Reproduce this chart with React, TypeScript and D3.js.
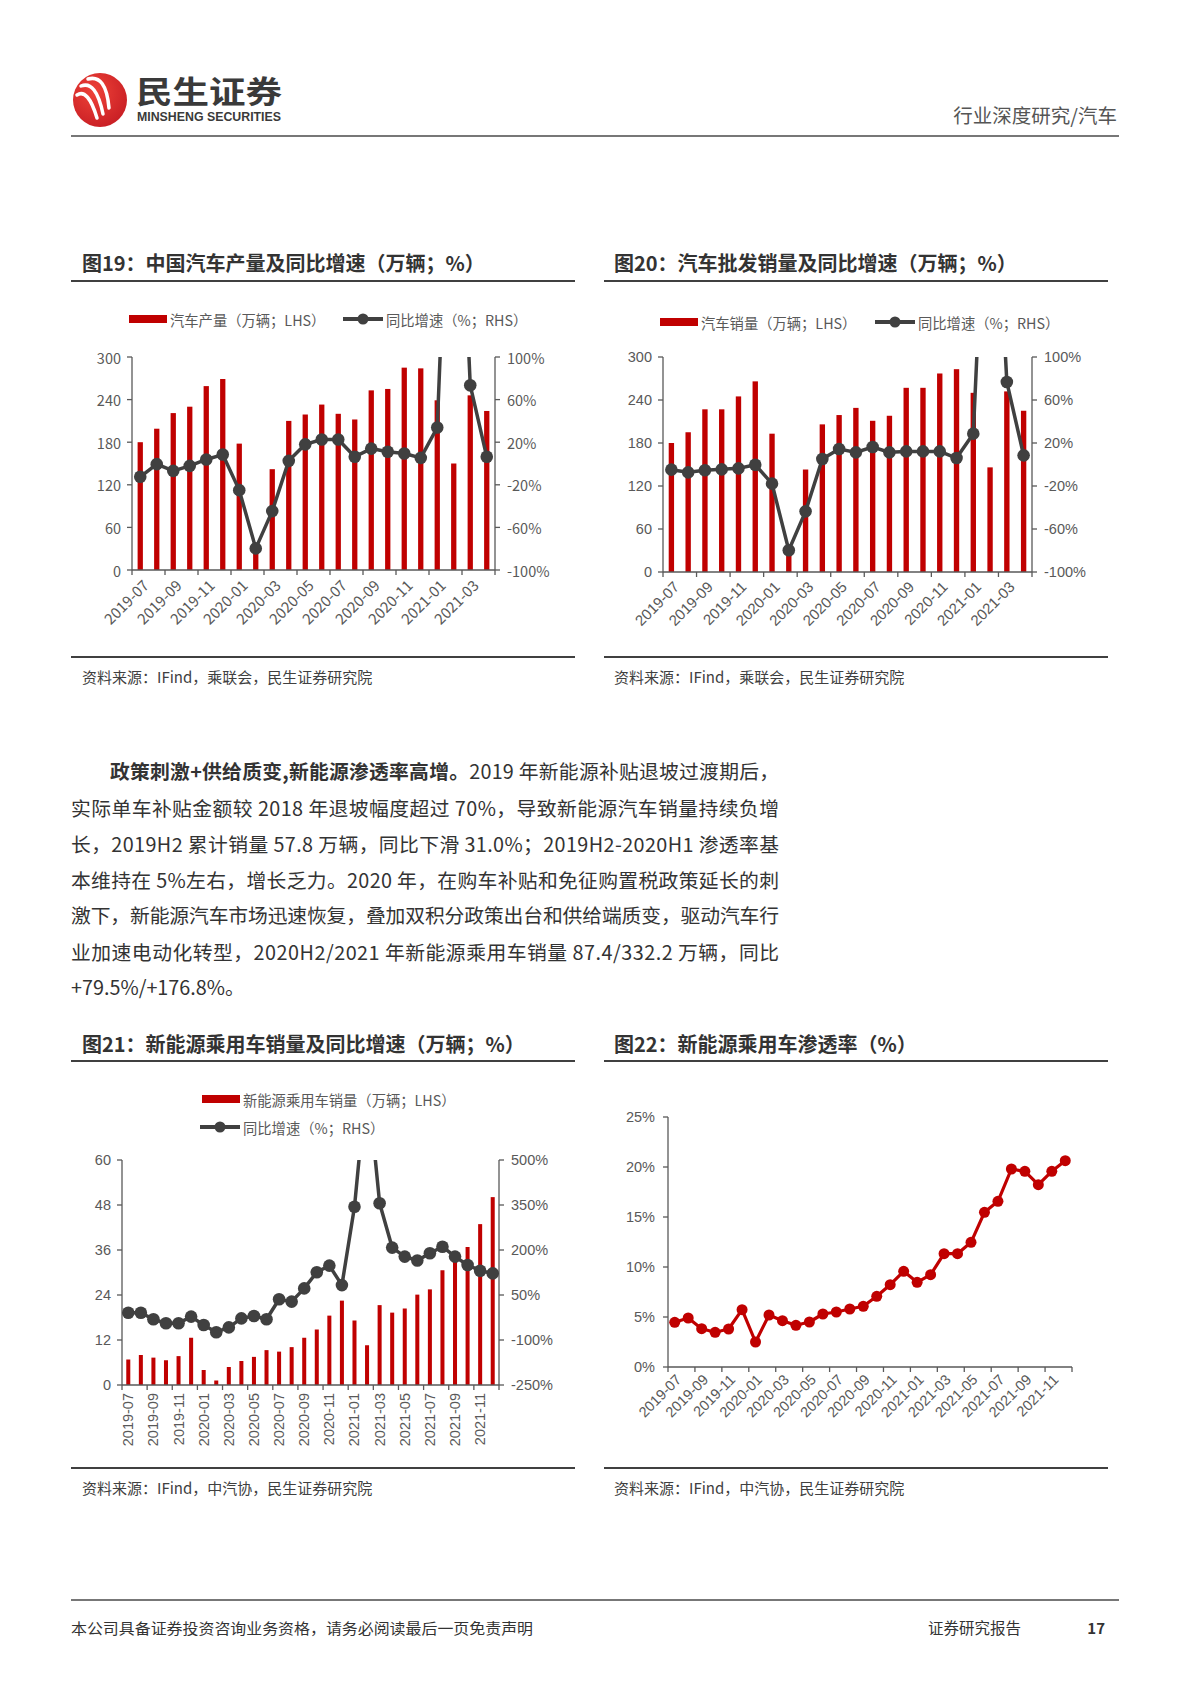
import React from 'react';
import * as d3 from 'd3';

const FONT = "'Noto Sans CJK SC', 'Noto Sans', sans-serif";
const NUMFONT = "'Liberation Sans', Arial, sans-serif";
const RED = '#C00000';
const DARK = '#404040';
const AXIS = '#595959';
const TXT = '#333333';

// ---------- data ----------
const months22 = ['2019-07','2019-08','2019-09','2019-10','2019-11','2019-12','2020-01','2020-02','2020-03','2020-04','2020-05','2020-06','2020-07','2020-08','2020-09','2020-10','2020-11','2020-12','2021-01','2021-02','2021-03','2021-04'];
const productionVol = [180,199,221,230,259,269,178,28,142,210,219,233,220,212,253,255,285,284,239,150,246,224];
const productionYoy = [-12.5,-0.6,-6.9,-2.2,3.8,8.4,-25,-79.7,-44.7,2.5,18,22.5,22.5,6.3,14,11,9.4,5.3,33.8,420,73.4,6.3];
const wholesaleVol = [180,195,227,227,245,266,193,31,143,206,219,229,211,218,257,257,277,283,250,146,252,225];
const wholesaleYoy = [-4.8,-7.3,-5.4,-4.5,-3.6,-0.2,-17.8,-79.8,-43.6,5.1,14.4,11.3,16.3,11.3,12.2,12.2,12.2,6,28.7,370,76.7,8.5];

const months30 = ['2019-07','2019-08','2019-09','2019-10','2019-11','2019-12','2020-01','2020-02','2020-03','2020-04','2020-05','2020-06','2020-07','2020-08','2020-09','2020-10','2020-11','2020-12','2021-01','2021-02','2021-03','2021-04','2021-05','2021-06','2021-07','2021-08','2021-09','2021-10','2021-11','2021-12'];
const nevSales = [6.8,8.0,7.3,6.6,7.7,12.6,4.0,1.2,4.8,6.4,7.5,9.3,8.9,10.1,12.6,14.8,18.5,22.5,17.2,10.6,21.3,19.3,20.4,24.1,25.5,30.6,33.4,36.8,42.9,50.1];
const nevYoy = [-9,-9,-31,-44,-44,-22,-50,-74,-58,-28,-20,-31,36,28,72,126,148,83,344,780,356,208,178,165,189,211,178,150,131,122];
const nevPenetration = [4.47,4.9,3.83,3.47,3.8,5.73,2.5,5.2,4.63,4.17,4.5,5.3,5.5,5.8,6.07,7.07,8.23,9.57,8.47,9.23,11.33,11.33,12.47,15.47,16.57,19.8,19.57,18.23,19.57,20.63];

const volTicks = [0,60,120,180,240,300];
const yoyTicks = [-100,-60,-20,20,60,100];
const nevTicks = [0,12,24,36,48,60];
const nevYoyTicks = [-250,-100,50,200,350,500];
const penTicks = [0,5,10,15,20,25];

const paragraphBold = '政策刺激+供给质变,新能源渗透率高增。';
const paragraphLines = [
  '2019 年新能源补贴退坡过渡期后，',
  '实际单车补贴金额较 2018 年退坡幅度超过 70%，导致新能源汽车销量持续负增',
  '长，2019H2 累计销量 57.8 万辆，同比下滑 31.0%；2019H2-2020H1 渗透率基',
  '本维持在 5%左右，增长乏力。2020 年，在购车补贴和免征购置税政策延长的刺',
  '激下，新能源汽车市场迅速恢复，叠加双积分政策出台和供给端质变，驱动汽车行',
  '业加速电动化转型，2020H2/2021 年新能源乘用车销量 87.4/332.2 万辆，同比',
  '+79.5%/+176.8%。',
];

// ---------- components ----------
type ComboProps = {
  id: string; months: string[]; bars: number[]; line: number[];
  lTicks: number[]; rTicks: number[]; rFmt: (v: number) => string;
  x0: number; x1: number; y0: number; y1: number; vertical: boolean; tickFont: string;
};

function Combo(p: ComboProps) {
  const x = d3.scaleBand<string>().domain(p.months).range([p.x0, p.x1]).paddingInner(0.68).paddingOuter(0.34);
  const yL = d3.scaleLinear().domain([p.lTicks[0], p.lTicks[p.lTicks.length - 1]]).range([p.y1, p.y0]);
  const yR = d3.scaleLinear().domain([p.rTicks[0], p.rTicks[p.rTicks.length - 1]]).range([p.y1, p.y0]);
  const c = (m: string) => (x(m) ?? 0) + x.bandwidth() / 2;
  const pts: [number, number][] = p.months.map((m, i) => [c(m), yR(p.line[i])]);
  const path = d3.line()(pts) || '';
  const step = x.step();
  const bounds = d3.range(0, p.months.length + 1, 2).map((i) => p.x0 + i * step);
  const labels = p.months.filter((_, i) => i % 2 === 0);
  return (
    <g>
      <defs>
        <clipPath id={p.id}>
          <rect x={p.x0 - 15} y={p.y0} width={p.x1 - p.x0 + 30} height={p.y1 - p.y0 + 15} />
        </clipPath>
      </defs>
      {p.months.map((m, i) => (
        <rect key={m} x={x(m)} y={yL(p.bars[i])} width={x.bandwidth()} height={p.y1 - yL(p.bars[i])} fill={RED} />
      ))}
      <line x1={p.x0} x2={p.x0} y1={p.y0} y2={p.y1} stroke={AXIS} strokeWidth={1.3} />
      <line x1={p.x1} x2={p.x1} y1={p.y0} y2={p.y1} stroke={AXIS} strokeWidth={1.3} />
      <line x1={p.x0} x2={p.x1} y1={p.y1} y2={p.y1} stroke={AXIS} strokeWidth={1.3} />
      {p.lTicks.map((t) => (
        <g key={'l' + t}>
          <line x1={p.x0 - 5} x2={p.x0} y1={yL(t)} y2={yL(t)} stroke={AXIS} strokeWidth={1.3} />
          <text x={p.x0 - 11} y={yL(t)} textAnchor="end" dominantBaseline="central" fontSize={14.5} fill={AXIS} fontFamily={p.tickFont}>{t}</text>
        </g>
      ))}
      {p.rTicks.map((t) => (
        <g key={'r' + t}>
          <line x1={p.x1} x2={p.x1 + 5} y1={yR(t)} y2={yR(t)} stroke={AXIS} strokeWidth={1.3} />
          <text x={p.x1 + 12} y={yR(t)} textAnchor="start" dominantBaseline="central" fontSize={14.5} fill={AXIS} fontFamily={p.tickFont}>{p.rFmt(t)}</text>
        </g>
      ))}
      {bounds.map((b, i) => (
        <line key={'b' + i} x1={b} x2={b} y1={p.y1} y2={p.y1 + 5} stroke={AXIS} strokeWidth={1.3} />
      ))}
      {labels.map((m) => (
        p.vertical ? (
          <text key={'t' + m} transform={`translate(${c(m)},${p.y1 + 8}) rotate(-90)`} textAnchor="end" dominantBaseline="central" fontSize={14.5} fill={AXIS} fontFamily={p.tickFont}>{m}</text>
        ) : (
          <text key={'t' + m} transform={`translate(${c(m) + 5},${p.y1 + 12}) rotate(-45)`} textAnchor="end" dominantBaseline="central" fontSize={15} fill={AXIS} fontFamily={p.tickFont}>{m}</text>
        )
      ))}
      <g clipPath={`url(#${p.id})`}>
        <path d={path} fill="none" stroke={DARK} strokeWidth={3.5} strokeLinejoin="round" />
        {pts.map(([px, py], i) => (
          <circle key={'c' + i} cx={px} cy={py} r={6.3} fill={DARK} />
        ))}
      </g>
    </g>
  );
}

function PenChart() {
  const x0 = 668, x1 = 1072, y0 = 1117, y1 = 1367;
  const x = d3.scaleBand<string>().domain(months30).range([x0, x1]);
  const y = d3.scaleLinear().domain([0, 25]).range([y1, y0]);
  const c = (m: string) => (x(m) ?? 0) + x.bandwidth() / 2;
  const pts: [number, number][] = months30.map((m, i) => [c(m), y(nevPenetration[i])]);
  const path = d3.line()(pts) || '';
  const step = x.step();
  const bounds = d3.range(0, months30.length + 1, 2).map((i) => x0 + i * step);
  const labels = months30.filter((_, i) => i % 2 === 0);
  return (
    <g>
      <line x1={x0} x2={x0} y1={y0} y2={y1} stroke={AXIS} strokeWidth={1.3} />
      <line x1={x0} x2={x1} y1={y1} y2={y1} stroke={AXIS} strokeWidth={1.3} />
      {penTicks.map((t) => (
        <g key={t}>
          <line x1={x0 - 5} x2={x0} y1={y(t)} y2={y(t)} stroke={AXIS} strokeWidth={1.3} />
          <text x={x0 - 13} y={y(t)} textAnchor="end" dominantBaseline="central" fontSize={14.5} fill={AXIS} fontFamily={NUMFONT}>{t + '%'}</text>
        </g>
      ))}
      {bounds.map((b, i) => (
        <line key={'b' + i} x1={b} x2={b} y1={y1} y2={y1 + 5} stroke={AXIS} strokeWidth={1.3} />
      ))}
      {labels.map((m) => (
        <text key={'t' + m} transform={`translate(${c(m) + 4},${y1 + 10}) rotate(-45)`} textAnchor="end" dominantBaseline="central" fontSize={14.5} fill={AXIS} fontFamily={NUMFONT}>{m}</text>
      ))}
      <path d={path} fill="none" stroke={RED} strokeWidth={3.2} strokeLinejoin="round" />
      {pts.map(([px, py], i) => (
        <circle key={'c' + i} cx={px} cy={py} r={5.5} fill={RED} />
      ))}
    </g>
  );
}

function BarLegend({ x, y, label }: { x: number; y: number; label: string }) {
  return (
    <g>
      <rect x={x} y={y - 4} width={38} height={8} fill={RED} />
      <text x={x + 41} y={y} dominantBaseline="central" fontSize={14.3} fill={AXIS} fontFamily={FONT}>{label}</text>
    </g>
  );
}
function LineLegend({ x, y, label }: { x: number; y: number; label: string }) {
  return (
    <g>
      <line x1={x} x2={x + 40} y1={y} y2={y} stroke={DARK} strokeWidth={4} />
      <circle cx={x + 20} cy={y} r={5.5} fill={DARK} />
      <text x={x + 43} y={y} dominantBaseline="central" fontSize={14.3} fill={AXIS} fontFamily={FONT}>{label}</text>
    </g>
  );
}

function Title({ x, y, lineX0, lineX1, lineY, text }: { x: number; y: number; lineX0: number; lineX1: number; lineY: number; text: string }) {
  return (
    <g>
      <text x={x} y={y} fontSize={20} fontWeight={700} fill={TXT} fontFamily={FONT} dominantBaseline="central">{text}</text>
      <line x1={lineX0} x2={lineX1} y1={lineY} y2={lineY} stroke={DARK} strokeWidth={2} />
    </g>
  );
}

function Source({ x, lineX0, lineX1, lineY, text }: { x: number; lineX0: number; lineX1: number; lineY: number; text: string }) {
  return (
    <g>
      <line x1={lineX0} x2={lineX1} y1={lineY} y2={lineY} stroke={DARK} strokeWidth={2} />
      <text x={x} y={lineY + 19} fontSize={15} fill={DARK} fontFamily={FONT} dominantBaseline="central">{text}</text>
    </g>
  );
}

function Header() {
  return (
    <g>
      <defs>
        <radialGradient id="logoGrad" cx="40%" cy="35%" r="70%">
          <stop offset="0%" stopColor="#EE4238" />
          <stop offset="100%" stopColor="#C81E24" />
        </radialGradient>
      </defs>
      <circle cx={100} cy={100} r={27} fill="url(#logoGrad)" />
      <path d="M77,95 Q88,88 97,118" fill="none" stroke="#fff" strokeWidth={3.5} strokeLinecap="round" />
      <path d="M81,86 Q96,80 103,114" fill="none" stroke="#fff" strokeWidth={3.5} strokeLinecap="round" />
      <path d="M88,79 Q106,74 109,108" fill="none" stroke="#fff" strokeWidth={3.5} strokeLinecap="round" />
      <text x={136} y={89} fontSize={31} fontWeight={700} fill="#3a3a3a" fontFamily={FONT} dominantBaseline="central" textLength={146} lengthAdjust="spacingAndGlyphs">民生证券</text>
      <text x={137} y={117} fontSize={12} fontWeight={700} fill="#3a3a3a" fontFamily={NUMFONT} dominantBaseline="central" textLength={144} lengthAdjust="spacingAndGlyphs">MINSHENG SECURITIES</text>
      <text x={1117} y={114} fontSize={19.5} fill="#555" fontFamily={FONT} textAnchor="end" dominantBaseline="central">行业深度研究/汽车</text>
      <line x1={71} x2={1119} y1={136} y2={136} stroke="#777" strokeWidth={2} />
    </g>
  );
}

function Paragraph() {
  const ys = [770, 807, 843, 879, 914, 951, 986];
  return (
    <g fontFamily={FONT} fontSize={19.8} fill={TXT}>
      <text x={110} y={ys[0]} dominantBaseline="central" textLength={669} lengthAdjust="spacing">
        <tspan fontWeight={700}>{paragraphBold}</tspan>
        <tspan>{paragraphLines[0]}</tspan>
      </text>
      {paragraphLines.slice(1).map((l, i) => (
        i < 5 ? (
          <text key={i} x={71} y={ys[i + 1]} dominantBaseline="central" textLength={708} lengthAdjust="spacing">{l}</text>
        ) : (
          <text key={i} x={71} y={ys[i + 1]} dominantBaseline="central">{l}</text>
        )
      ))}
    </g>
  );
}

function Footer() {
  return (
    <g fontFamily={FONT}>
      <line x1={71} x2={1119} y1={1600} y2={1600} stroke="#777" strokeWidth={2} />
      <text x={71} y={1627} fontSize={15} fill={TXT} dominantBaseline="central" textLength={462} lengthAdjust="spacingAndGlyphs">本公司具备证券投资咨询业务资格，请务必阅读最后一页免责声明</text>
      <text x={928} y={1627} fontSize={15.5} fill={TXT} dominantBaseline="central">证券研究报告</text>
      <text x={1105} y={1627} fontSize={15} fontWeight={700} fill={TXT} textAnchor="end" dominantBaseline="central">17</text>
    </g>
  );
}

export default function App() {
  const pct = (v: number) => v + '%';
  return (
    <svg width={1190} height={1683} viewBox="0 0 1190 1683" style={{ position: 'absolute', left: 0, top: 0, background: '#fff' }}>
      <rect width={1190} height={1683} fill="#fff" />
      <Header />

      <Title x={82} y={262} lineX0={71} lineX1={575} lineY={281} text="图19：中国汽车产量及同比增速（万辆；%）" />
      <Title x={614} y={262} lineX0={604} lineX1={1108} lineY={281} text="图20：汽车批发销量及同比增速（万辆；%）" />

      <BarLegend x={129} y={319} label="汽车产量（万辆；LHS）" />
      <LineLegend x={343} y={319} label="同比增速（%；RHS）" />
      <Combo id="c19" months={months22} bars={productionVol} line={productionYoy} lTicks={volTicks} rTicks={yoyTicks} rFmt={pct}
        x0={132} x1={495} y0={357} y1={570} vertical={false} tickFont={FONT} />
      <Source x={82} lineX0={71} lineX1={575} lineY={657} text="资料来源：IFind，乘联会，民生证券研究院" />

      <BarLegend x={660} y={322} label="汽车销量（万辆；LHS）" />
      <LineLegend x={875} y={322} label="同比增速（%；RHS）" />
      <Combo id="c20" months={months22} bars={wholesaleVol} line={wholesaleYoy} lTicks={volTicks} rTicks={yoyTicks} rFmt={pct}
        x0={663} x1={1032} y0={357} y1={572} vertical={false} tickFont={NUMFONT} />
      <Source x={614} lineX0={604} lineX1={1108} lineY={657} text="资料来源：IFind，乘联会，民生证券研究院" />

      <Paragraph />

      <Title x={82} y={1043} lineX0={71} lineX1={575} lineY={1061} text="图21：新能源乘用车销量及同比增速（万辆；%）" />
      <Title x={614} y={1043} lineX0={604} lineX1={1108} lineY={1061} text="图22：新能源乘用车渗透率（%）" />

      <BarLegend x={202} y={1099} label="新能源乘用车销量（万辆；LHS）" />
      <LineLegend x={200} y={1127} label="同比增速（%；RHS）" />
      <Combo id="c21" months={months30} bars={nevSales} line={nevYoy} lTicks={nevTicks} rTicks={nevYoyTicks} rFmt={pct}
        x0={122} x1={499} y0={1160} y1={1385} vertical={true} tickFont={NUMFONT} />
      <Source x={82} lineX0={71} lineX1={575} lineY={1468} text="资料来源：IFind，中汽协，民生证券研究院" />

      <PenChart />
      <Source x={614} lineX0={604} lineX1={1108} lineY={1468} text="资料来源：IFind，中汽协，民生证券研究院" />

      <Footer />
    </svg>
  );
}
